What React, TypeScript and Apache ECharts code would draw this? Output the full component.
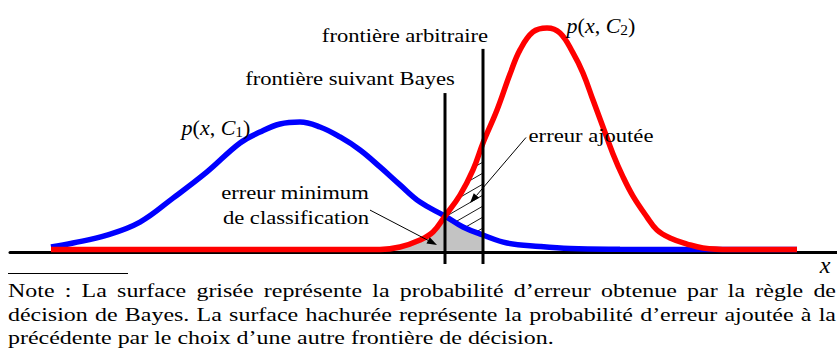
import { useEffect, useRef } from 'react';
import * as echarts from 'echarts';

// p(x, C1): sampled abscissae and heights
const blueX = [-7.88, -7.44, -6.76, -6.1, -5.44, -4.76, -4.1, -3.7, -3.3, -2.9, -2.5, -2.1, -1.7, -1.3, -0.9, -0.5, 0, 0.36, 0.76, 1.24, 1.9, 2.5, 3.5, 5.1, 7.04];
const blueY = [0.01, 0.026, 0.058, 0.11, 0.206, 0.311, 0.427, 0.471, 0.503, 0.511, 0.491, 0.451, 0.399, 0.331, 0.259, 0.19, 0.134, 0.09, 0.058, 0.026, 0.012, 0.004, 0.001, 0, 0];

// p(x, C2)
const redX = [-7.88, -4.0, -1.3, -0.9, -0.5, -0.24, 0, 0.3, 0.56, 0.76, 1.04, 1.3, 1.5, 1.76, 2.04, 2.3, 2.56, 2.76, 2.96, 3.16, 3.36, 3.56, 3.76, 4.04, 4.24, 4.5, 4.84, 5.16, 5.7, 7.04];
const redY = [0, 0, 0, 0.01, 0.038, 0.07, 0.134, 0.218, 0.319, 0.427, 0.559, 0.703, 0.8, 0.872, 0.888, 0.868, 0.788, 0.707, 0.599, 0.491, 0.383, 0.291, 0.214, 0.13, 0.078, 0.046, 0.022, 0.006, 0, 0];

// decision boundaries: Bayes first, then the arbitrary one
const boundaryX = [0, 0.76];
const boundaryTop = [0.627, 0.804];
const boundaryBottom = -0.058;

const noteLines = [
  'Note : La surface grisée représente la probabilité d’erreur obtenue par la règle de',
  'décision de Bayes. La surface hachurée représente la probabilité d’erreur ajoutée à la',
  'précédente par le choix d’une autre frontière de décision.',
];

const FAMILY = 'Liberation Serif';
const SIZE = 19;
const LABEL_STRETCH = 1.19;
const NOTE_STRETCH = 1.26;

const pairs = (xs: number[], ys: number[]) => xs.map((x, i) => [x, ys[i]]);

function interp(pts: number[][], px: number) {
  for (let i = 0; i < pts.length - 1; i++) {
    const [x0, y0] = pts[i];
    const [x1, y1] = pts[i + 1];
    if (px >= x0 && px <= x1) {
      const t = x1 === x0 ? 0 : (px - x0) / (x1 - x0);
      return y0 + t * (y1 - y0);
    }
  }
  return px < pts[0][0] ? pts[0][1] : pts[pts.length - 1][1];
}

function arrow(a: number[], b: number[]) {
  const dx = b[0] - a[0];
  const dy = b[1] - a[1];
  const len = Math.hypot(dx, dy);
  const ux = dx / len;
  const uy = dy / len;
  const L = 10;
  const W = 3.6;
  const bx = b[0] - ux * L;
  const by = b[1] - uy * L;
  return [
    { type: 'line', shape: { x1: a[0], y1: a[1], x2: bx, y2: by }, style: { stroke: '#000', lineWidth: 1 } },
    {
      type: 'polygon',
      shape: { points: [[b[0], b[1]], [bx - uy * W, by + ux * W], [bx + uy * W, by - ux * W]] },
      style: { fill: '#000' },
    },
  ];
}

const plain = (t: string, x: number, y: number, align = 'center', stretch = LABEL_STRETCH, font = `${SIZE}px ${FAMILY}`) => ({
  type: 'text',
  x,
  y,
  scaleX: stretch,
  z: 10,
  style: {
    text: t,
    font,
    fill: '#000',
    textAlign: align,
    textVerticalAlign: 'middle',
  },
});

function noteGraphics() {
  const ctx = document.createElement('canvas').getContext('2d')!;
  ctx.font = `${SIZE}px ${FAMILY}`;
  const left = 8;
  const right = 836;
  const midYs = [291, 314.6, 338.1];
  const out: any[] = [];
  noteLines.forEach((line, li) => {
    if (li === noteLines.length - 1) {
      out.push(plain(line, left, midYs[li], 'left', NOTE_STRETCH));
      return;
    }
    const words = line.split(' ');
    const widths = words.map((w) => ctx.measureText(w).width * NOTE_STRETCH);
    const total = widths.reduce((s, w) => s + w, 0);
    const gap = (right - left - total) / (words.length - 1);
    let x = left;
    words.forEach((w, i) => {
      out.push(plain(w, x, midYs[li], 'left', NOTE_STRETCH));
      x += widths[i] + gap;
    });
  });
  return out;
}

export default function App() {
  const ref = useRef<HTMLDivElement>(null);

  useEffect(() => {
    if (!ref.current) return;
    const chart = echarts.init(ref.current, null, { renderer: 'svg' });

    const bluePts = pairs(blueX, blueY);
    const redPts = pairs(redX, redY);
    const [bayes, arbitrary] = boundaryX;

    const grayStart = Math.max(...redPts.filter(([x, y]) => x < bayes && y === 0).map((p) => p[0]));
    const grayTop = [
      ...redPts.filter(([x]) => x >= grayStart && x <= bayes),
      ...bluePts.filter(([x]) => x > bayes && x <= arbitrary),
    ];

    const math = {
      i: { fontStyle: 'italic', fontFamily: FAMILY, fontSize: 20, color: '#000' },
      r: { fontFamily: FAMILY, fontSize: 20, color: '#000' },
      s: { fontFamily: FAMILY, fontSize: 14, color: '#000', padding: [9, 0, 0, 0] },
    };
    const mathLabel = (t: string, x: number, y: number) => ({
      type: 'text',
      x,
      y,
      scaleX: 1.1,
      z: 10,
      style: { text: t, rich: math, textAlign: 'center', textVerticalAlign: 'middle', fill: '#000' },
    });

    const option: any = {
      animation: false,
      grid: { left: 10, right: 0, top: 0, bottom: 97 },
      xAxis: {
        type: 'value',
        min: -8.7,
        max: 7.84,
        axisLine: { show: true, onZero: false, lineStyle: { color: '#000', width: 3 } },
        axisTick: { show: false },
        axisLabel: { show: false },
        splitLine: { show: false },
      },
      yAxis: { type: 'value', min: -0.01, max: 1, show: false, splitLine: { show: false } },
      series: [
        {
          // shaded minimum error and hatched added error
          type: 'custom',
          clip: false,
          data: [[0, 0]],
          z: 1,
          renderItem: (_p: any, api: any) => {
            const P = (pt: number[]) => api.coord(pt);
            const children: any[] = [];
            const poly = [P([grayStart, -0.005]), ...grayTop.map(P), P([arbitrary, -0.005])];
            children.push({ type: 'polygon', shape: { points: poly }, style: { fill: '#c3c3c3' } });

            const topPx = redPts.filter(([x]) => x >= bayes && x <= arbitrary).map(P);
            const botPx = bluePts.filter(([x]) => x >= bayes && x <= arbitrary).map(P);
            const xa = P([bayes, 0])[0];
            const xb = P([arbitrary, 0])[0];
            const k = Math.tan(Math.PI / 6);
            const yStart = interp(botPx, xb) - 7;
            for (let i = 0; i < 7; i++) {
              const y0 = yStart - i * 11;
              let first: number[] | null = null;
              let last: number[] | null = null;
              for (let px = xa; px <= xb; px += 0.25) {
                const ly = y0 + k * (xb - px);
                if (ly > interp(topPx, px) + 2 && ly < interp(botPx, px) - 1) {
                  if (!first) first = [px, ly];
                  last = [px, ly];
                }
              }
              if (first && last && last[0] - first[0] > 1) {
                children.push({
                  type: 'line',
                  shape: { x1: first[0], y1: first[1], x2: last[0], y2: last[1] },
                  style: { stroke: '#000', lineWidth: 0.9 },
                });
              }
            }
            return { type: 'group', children };
          },
        },
        {
          name: 'p(x, C1)',
          type: 'line',
          data: bluePts,
          smooth: 0.4,
          symbol: 'none',
          lineStyle: { color: '#0000ff', width: 5.5 },
          z: 3,
        },
        {
          name: 'p(x, C2)',
          type: 'line',
          data: redPts,
          smooth: 0.4,
          symbol: 'none',
          lineStyle: { color: '#ff0000', width: 5.5 },
          z: 4,
        },
        {
          // annotation arrows
          type: 'custom',
          clip: false,
          data: [[0, 0]],
          z: 5,
          renderItem: (_p: any, api: any) => {
            const P = (pt: number[]) => api.coord(pt);
            return {
              type: 'group',
              children: [
                ...arrow(P([-1.5, 0.158]), P([-0.16, 0.018])),
                ...arrow(P([1.62, 0.449]), P([0.5, 0.186])),
              ],
            };
          },
        },
        ...boundaryX.map((bx, i) => ({
          type: 'line',
          clip: false,
          data: [[bx, boundaryBottom], [bx, boundaryTop[i]]],
          symbol: 'none',
          lineStyle: { color: '#000', width: 3 },
          z: 6,
        })),
      ],
      graphic: [
        plain('frontière arbitraire', 405, 35.3),
        plain('frontière suivant Bayes', 350, 78.6),
        plain('erreur ajoutée', 591, 135.3),
        plain('erreur minimum', 295, 192.6),
        plain('de classification', 296, 218),
        mathLabel('{i|p}{r|(}{i|x}{r|, }{i|C}{s|1}{r|)}', 216, 128),
        mathLabel('{i|p}{r|(}{i|x}{r|, }{i|C}{s|2}{r|)}', 601, 26),
        plain('x', 825, 265, 'center', 1, `italic 24px ${FAMILY}`),
        { type: 'line', shape: { x1: 8, y1: 273.5, x2: 128, y2: 273.5 }, style: { stroke: '#000', lineWidth: 1 } },
        ...noteGraphics(),
      ],
    };

    chart.setOption(option);
    return () => chart.dispose();
  }, []);

  return (
    <div
      ref={ref}
      style={{ position: 'fixed', left: 0, top: 0, width: 837, height: 349, background: '#fff' }}
    />
  );
}
